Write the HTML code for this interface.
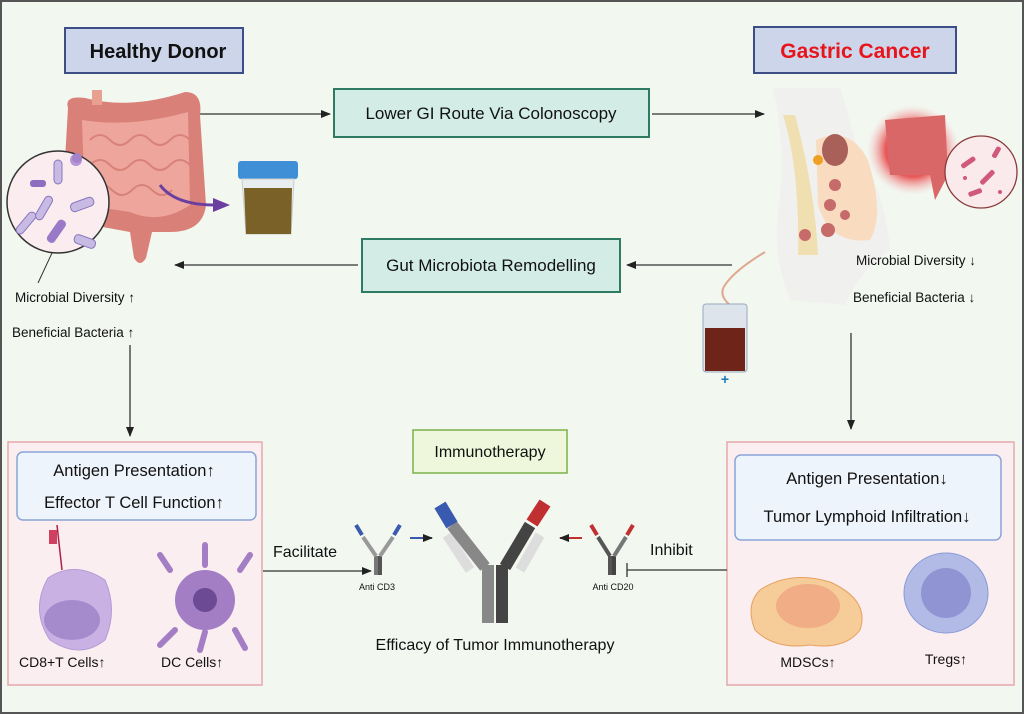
<!DOCTYPE html>
<html><head><meta charset="utf-8"><style>
html,body{margin:0;padding:0;background:#fff}
svg{display:block}
text{font-family:"Liberation Sans",sans-serif}
</style></head><body>
<svg width="1024" height="714" viewBox="0 0 1024 714" xmlns="http://www.w3.org/2000/svg">
<defs>
<marker id="ah" markerWidth="10" markerHeight="8" refX="9" refY="4" orient="auto" markerUnits="userSpaceOnUse"><path d="M0,0 L10,4 L0,8 Z" fill="#222"/></marker>
<radialGradient id="glow"><stop offset="0.6" stop-color="#e85a5a"/><stop offset="1" stop-color="#f7c4c4" stop-opacity="0"/></radialGradient>
</defs>
<rect x="1" y="1" width="1022" height="712" fill="#f2f7f0" stroke="#555" stroke-width="2"/>

<rect x="65" y="28" width="178" height="45" fill="#cdd5ea" stroke="#3d4d86" stroke-width="2"/>
<text x="158" y="58" font-size="20" font-weight="bold" text-anchor="middle" fill="#111">Healthy Donor</text>
<rect x="754" y="27" width="202" height="46" fill="#cdd5ea" stroke="#3d4d86" stroke-width="2"/>
<text x="855" y="58" font-size="21" font-weight="bold" text-anchor="middle" fill="#e8141c">Gastric Cancer</text>

<rect x="334" y="89" width="315" height="48" fill="#d3ede6" stroke="#2e7a62" stroke-width="2"/>
<text x="491" y="119" font-size="17" text-anchor="middle" fill="#111">Lower GI Route Via Colonoscopy</text>
<rect x="362" y="239" width="258" height="53" fill="#d3ede6" stroke="#2e7a62" stroke-width="2"/>
<text x="491" y="271" font-size="17" text-anchor="middle" fill="#111">Gut Microbiota Remodelling</text>

<line x1="200" y1="114" x2="330" y2="114" stroke="#333" stroke-width="1.3" marker-end="url(#ah)"/>
<line x1="652" y1="114" x2="764" y2="114" stroke="#333" stroke-width="1.3" marker-end="url(#ah)"/>
<line x1="358" y1="265" x2="175" y2="265" stroke="#333" stroke-width="1.3" marker-end="url(#ah)"/>
<line x1="732" y1="265" x2="627" y2="265" stroke="#333" stroke-width="1.3" marker-end="url(#ah)"/>

<!-- healthy intestine -->
<g>
<path d="M68,108 Q64,95 85,98 Q130,110 185,92 Q203,92 200,115 L206,205 Q203,232 170,232 L152,232 L146,258 Q140,268 134,258 L130,232 L75,222 Q62,200 65,160 Z" fill="#d98178"/>
<path d="M82,120 Q130,128 188,112 L190,205 Q160,225 130,212 L85,205 Z" fill="#eea69c"/>
<g fill="none" stroke="#d8837a" stroke-width="2"><path d="M90,140 q10,-10 20,0 t20,0 t20,0 t20,0 t20,0"/><path d="M90,165 q10,-10 20,0 t20,0 t20,0 t20,0 t20,0"/><path d="M92,190 q10,-10 20,0 t20,0 t20,0 t20,0"/></g>
<rect x="92" y="90" width="10" height="15" fill="#e8a090"/>
</g>
<circle cx="58" cy="202" r="51" fill="#fbecef" stroke="#333" stroke-width="1.5"/>
<g fill="#c8bbe3" stroke="#8a74c0" stroke-width="1">
<rect x="40" y="195" width="8" height="26" rx="4" transform="rotate(30 44 208)"/>
<rect x="54" y="160" width="8" height="24" rx="4"/>
<rect x="70" y="200" width="24" height="9" rx="4" transform="rotate(-20 82 204)"/>
<rect x="22" y="210" width="8" height="26" rx="4" transform="rotate(40 26 223)"/>
<rect x="74" y="237" width="22" height="9" rx="4" transform="rotate(20 85 241)"/>
</g>
<rect x="52" y="218" width="9" height="26" rx="4" fill="#9a7ac8" transform="rotate(35 56 231)"/>
<rect x="30" y="180" width="16" height="7" rx="3" fill="#8e6dc0"/>
<circle cx="76" cy="160" r="6" fill="#b795d6"/>
<circle cx="77" cy="158" r="5" fill="#a583cc"/>
<line x1="52" y1="253" x2="38" y2="283" stroke="#333"/>
<path d="M160,185 Q175,205 215,205" fill="none" stroke="#6b3fa0" stroke-width="3"/>
<path d="M213,198 L230,205 L213,212 Z" fill="#6b3fa0"/>
<rect x="238" y="161" width="60" height="18" rx="3" fill="#3f8fd6"/>
<path d="M242,179 L294,179 L291,234 L246,234 Z" fill="#e8eef0" stroke="#ccc"/>
<path d="M244,188 L292,188 L291,234 L246,234 Z" fill="#7a6128"/>

<text x="15" y="302" font-size="13.5" fill="#111">Microbial Diversity ↑</text>
<text x="12" y="337" font-size="13.5" fill="#111">Beneficial Bacteria ↑</text>
<line x1="130" y1="345" x2="130" y2="436" stroke="#333" stroke-width="1.3" marker-end="url(#ah)"/>

<!-- gastric body -->
<path d="M773,88 Q785,140 780,200 Q770,250 790,300 L845,305 Q860,270 890,250 Q885,190 860,160 Q850,120 840,88 Z" fill="#f0f0ee"/>
<path d="M783,115 Q800,170 798,255 L818,255 Q815,190 795,115 Z" fill="#f0dfb0"/>
<path d="M816,140 Q850,125 868,160 Q885,215 870,240 Q830,245 818,205 Z" fill="#f9dcc0"/>
<ellipse cx="835" cy="150" rx="13" ry="16" fill="#a86058"/>
<g fill="#c66a6a"><circle cx="835" cy="185" r="6"/><circle cx="830" cy="205" r="6"/><circle cx="845" cy="215" r="5"/><circle cx="828" cy="230" r="7"/><circle cx="805" cy="235" r="6"/></g>
<circle cx="818" cy="160" r="5" fill="#f0a020"/>
<ellipse cx="913" cy="150" rx="46" ry="45" fill="url(#glow)"/>
<path d="M885,120 L945,115 L948,175 L935,200 L930,175 L890,175 Z" fill="#d96767"/>
<circle cx="981" cy="172" r="36" fill="#fbeaec" stroke="#8a3a3a" stroke-width="1.3"/>
<g fill="#d0587a"><rect x="960" y="160" width="16" height="5" rx="2" transform="rotate(-35 968 162)"/><rect x="978" y="175" width="18" height="5" rx="2" transform="rotate(-45 987 177)"/><rect x="968" y="190" width="14" height="5" rx="2" transform="rotate(-20 975 192)"/><rect x="990" y="150" width="12" height="5" rx="2" transform="rotate(-60 996 152)"/><circle cx="1000" cy="192" r="2"/><circle cx="965" cy="178" r="2"/></g>
<text x="856" y="265" font-size="13.5" fill="#111">Microbial Diversity ↓</text>
<text x="853" y="302" font-size="13.5" fill="#111">Beneficial Bacteria ↓</text>
<path d="M765,252 Q735,270 725,285 Q718,295 730,305" fill="none" stroke="#e0a890" stroke-width="2"/>
<rect x="703" y="304" width="44" height="68" rx="3" fill="#dde4ec" stroke="#9ab"/>
<rect x="705" y="328" width="40" height="43" fill="#6e2418"/>
<text x="725" y="384" font-size="14" fill="#1a7ab8" text-anchor="middle" font-weight="bold">+</text>
<line x1="851" y1="333" x2="851" y2="429" stroke="#333" stroke-width="1.3" marker-end="url(#ah)"/>

<!-- bottom left box -->
<rect x="8" y="442" width="254" height="243" fill="#fbeef0" stroke="#e4a8ac" stroke-width="1.5"/>
<rect x="17" y="452" width="239" height="68" rx="6" fill="#eef4fb" stroke="#8aa4d8" stroke-width="1.5"/>
<text x="134" y="476" font-size="16.5" text-anchor="middle" fill="#111">Antigen Presentation↑</text>
<text x="134" y="508" font-size="16.5" text-anchor="middle" fill="#111">Effector T Cell Function↑</text>
<line x1="57" y1="525" x2="62" y2="570" stroke="#b0204a" stroke-width="1.5"/>
<rect x="49" y="530" width="8" height="14" fill="#d04060"/>
<path d="M48,578 Q75,560 105,580 Q118,610 105,640 Q80,660 50,640 Q30,610 48,578 Z" fill="#c9b2e3" stroke="#b69ad6"/>
<ellipse cx="72" cy="620" rx="28" ry="20" fill="#a58bcb"/>
<g fill="#a47ec4"><circle cx="205" cy="600" r="30"/><path d="M170,570 L160,555 M240,570 L250,555 M205,565 L205,545 M175,630 L160,645 M235,630 L245,648 M205,632 L200,650" stroke="#a47ec4" stroke-width="6" stroke-linecap="round"/></g>
<circle cx="205" cy="600" r="12" fill="#6c4a94"/>
<text x="19" y="667" font-size="14" fill="#111">CD8+T Cells↑</text>
<text x="161" y="667" font-size="14" fill="#111">DC Cells↑</text>

<!-- bottom right box -->
<rect x="727" y="442" width="287" height="243" fill="#fbeef0" stroke="#e4a8ac" stroke-width="1.5"/>
<rect x="735" y="455" width="266" height="85" rx="6" fill="#eef4fb" stroke="#8aa4d8" stroke-width="1.5"/>
<text x="867" y="484" font-size="16.5" text-anchor="middle" fill="#111">Antigen Presentation↓</text>
<text x="867" y="522" font-size="16.5" text-anchor="middle" fill="#111">Tumor Lymphoid Infiltration↓</text>
<path d="M760,590 Q790,570 830,582 Q870,600 860,630 Q845,650 810,645 Q775,650 755,630 Q745,605 760,590 Z" fill="#f6cc98" stroke="#e7a060"/>
<ellipse cx="808" cy="606" rx="32" ry="22" fill="#f0ad86"/>
<ellipse cx="946" cy="593" rx="42" ry="40" fill="#b2bbe6" stroke="#8a9ad8"/>
<ellipse cx="946" cy="593" rx="25" ry="25" fill="#9094d2"/>
<text x="808" y="667" font-size="14" text-anchor="middle" fill="#111">MDSCs↑</text>
<text x="946" y="664" font-size="14" text-anchor="middle" fill="#111">Tregs↑</text>

<!-- immunotherapy -->
<rect x="413" y="430" width="154" height="43" fill="#eef7dc" stroke="#7ab04a" stroke-width="1.5"/>
<text x="490" y="457" font-size="16" text-anchor="middle" fill="#111">Immunotherapy</text>
<text x="273" y="557" font-size="16" fill="#111">Facilitate</text>
<line x1="263" y1="571" x2="371" y2="571" stroke="#333" stroke-width="1.3" marker-end="url(#ah)"/>
<text x="650" y="555" font-size="16" fill="#111">Inhibit</text>
<line x1="727" y1="570" x2="627" y2="570" stroke="#333" stroke-width="1.3"/>
<line x1="627" y1="563" x2="627" y2="577" stroke="#333" stroke-width="1.3"/>
<g stroke-width="4">
<line x1="376" y1="556" x2="376" y2="575" stroke="#777"/><line x1="380" y1="556" x2="380" y2="575" stroke="#555"/>
<line x1="376" y1="556" x2="363" y2="537" stroke="#999"/><line x1="380" y1="556" x2="393" y2="537" stroke="#999"/>
<line x1="362" y1="535" x2="356" y2="525" stroke="#3a5ab0"/><line x1="394" y1="535" x2="400" y2="525" stroke="#3a5ab0"/>
<line x1="610" y1="556" x2="610" y2="575" stroke="#555"/><line x1="614" y1="556" x2="614" y2="575" stroke="#444"/>
<line x1="610" y1="556" x2="598" y2="537" stroke="#555"/><line x1="614" y1="556" x2="626" y2="537" stroke="#777"/>
<line x1="597" y1="535" x2="591" y2="525" stroke="#c03030"/><line x1="627" y1="535" x2="633" y2="525" stroke="#c03030"/>
</g>
<text x="377" y="590" font-size="9" text-anchor="middle" fill="#111">Anti CD3</text>
<text x="613" y="590" font-size="9" text-anchor="middle" fill="#111">Anti CD20</text>
<line x1="410" y1="538" x2="432" y2="538" stroke="#3a5ab0" stroke-width="2" marker-end="url(#ah)"/>
<line x1="582" y1="538" x2="560" y2="538" stroke="#c03030" stroke-width="2" marker-end="url(#ah)"/>
<line x1="470" y1="570" x2="447" y2="535" stroke="#ddd" stroke-width="10"/>
<line x1="520" y1="570" x2="540" y2="535" stroke="#ddd" stroke-width="10"/>
<rect x="482" y="565" width="12" height="58" fill="#888"/>
<rect x="496" y="565" width="12" height="58" fill="#444"/>
<line x1="485" y1="567" x2="452" y2="525" stroke="#888" stroke-width="12"/>
<line x1="505" y1="567" x2="530" y2="525" stroke="#444" stroke-width="12"/>
<line x1="452" y1="525" x2="440" y2="505" stroke="#3a5ab0" stroke-width="13"/>
<line x1="532" y1="523" x2="545" y2="503" stroke="#c03030" stroke-width="13"/>
<text x="495" y="650" font-size="16" text-anchor="middle" fill="#111">Efficacy of Tumor Immunotherapy</text>
</svg>
</body></html>
